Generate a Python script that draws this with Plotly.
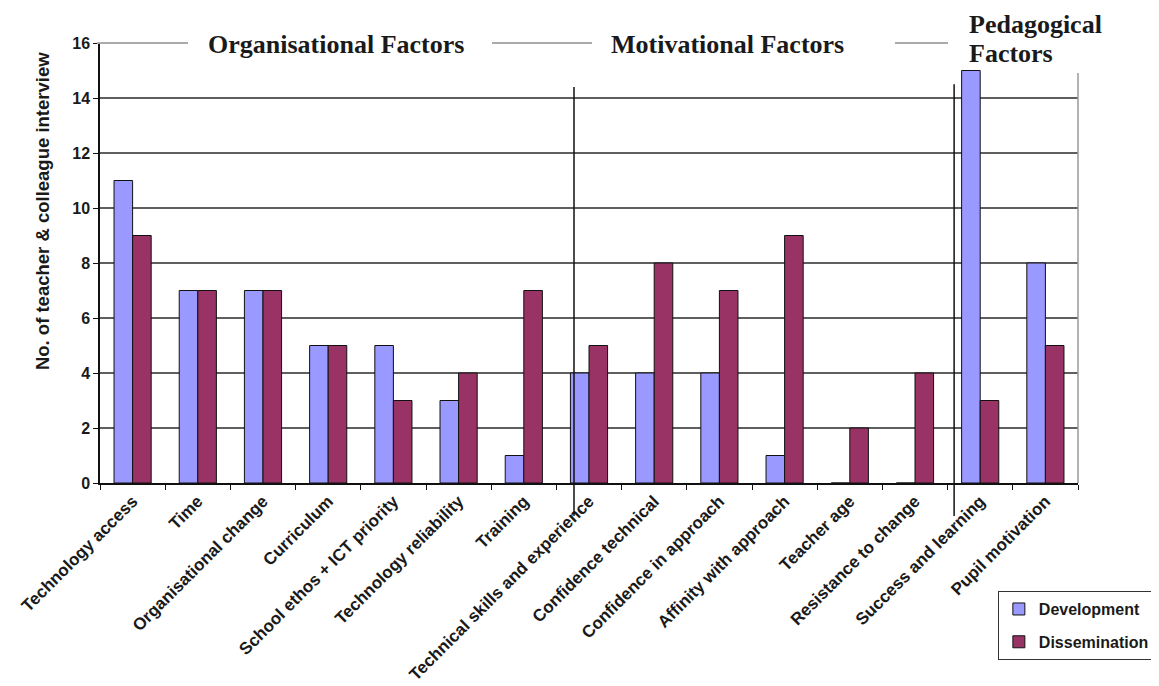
import plotly.graph_objects as go

categories = [
    "Technology access", "Time", "Organisational change", "Curriculum",
    "School ethos + ICT priority", "Technology reliability", "Training",
    "Technical skills and experience", "Confidence technical",
    "Confidence in approach", "Affinity with approach", "Teacher age",
    "Resistance to change", "Success and learning", "Pupil motivation",
]
development = [11, 7, 7, 5, 5, 3, 1, 4, 4, 4, 1, 0, 0, 15, 8]
dissemination = [9, 7, 7, 5, 3, 4, 7, 5, 8, 7, 9, 2, 4, 3, 5]
y_ticks = [0, 2, 4, 6, 8, 10, 12, 14, 16]

group_titles = ["Organisational Factors", "Motivational Factors"]
ped_title = ["Pedagogical", "Factors"]
y_title = "No. of teacher & colleague interview"

FONT = "Liberation Sans, Arial, sans-serif"
SERIF = "Liberation Serif, Times New Roman, serif"
TXT = "#1a1a1a"

fig = go.Figure()
fig.add_trace(go.Bar(
    x=categories, y=development, name="Development", legendgroup="a",
    marker=dict(color="#9999FF", line=dict(color="#111111", width=1)),
))
fig.add_trace(go.Bar(
    x=categories, y=dissemination, name="Dissemination", legendgroup="b",
    marker=dict(color="#993366", line=dict(color="#111111", width=1)),
))

shapes = []
# horizontal grid lines (except the top one)
for v in y_ticks[1:-1]:
    shapes.append(dict(type="line", xref="paper", yref="y", x0=0, x1=1, y0=v, y1=v,
                       line=dict(color="#2a2a2a", width=1.5), layer="below"))
# grey fragments of the top line between the group titles
for a, b in [(-0.003, 0.090), (0.4008, 0.5031), (0.8129, 0.8671)]:
    shapes.append(dict(type="line", xref="paper", yref="paper", x0=a, x1=b, y0=1, y1=1,
                       line=dict(color="#aaaaaa", width=2)))
# right border (grey)
shapes.append(dict(type="line", xref="paper", yref="paper", x0=1, x1=1, y0=0, y1=0.932,
                   line=dict(color="#999999", width=1.5)))
# group divider lines
for xc, ytop in [(6.77, 0.90), (12.6, 0.906)]:
    shapes.append(dict(type="line", xref="x", yref="paper", x0=xc, x1=xc, y0=-0.075, y1=ytop,
                       line=dict(color="#111111", width=1.5), layer="above"))

annotations = [
    dict(text=group_titles[0], xref="paper", yref="paper", x=0.2413, y=0.9955,
         xanchor="center", yanchor="middle", showarrow=False,
         font=dict(family=SERIF, size=26, color=TXT, weight="bold")),
    dict(text=group_titles[1], xref="paper", yref="paper", x=0.642, y=0.9955,
         xanchor="center", yanchor="middle", showarrow=False,
         font=dict(family=SERIF, size=26, color=TXT, weight="bold")),
    dict(text=ped_title[0], xref="paper", yref="paper", x=0.8865, y=1.041,
         xanchor="left", yanchor="middle", showarrow=False,
         font=dict(family=SERIF, size=26, color=TXT, weight="bold")),
    dict(text=ped_title[1], xref="paper", yref="paper", x=0.8865, y=0.977,
         xanchor="left", yanchor="middle", showarrow=False,
         font=dict(family=SERIF, size=26, color=TXT, weight="bold")),
    dict(text=y_title, xref="paper", yref="paper", x=-0.0593, y=0.618,
         xanchor="center", yanchor="middle", textangle=-90, showarrow=False,
         font=dict(family=FONT, size=18.5, color=TXT, weight="bold")),
]

fig.update_layout(
    width=1151, height=678,
    margin=dict(l=92, r=81, t=35, b=203, autoexpand=False),
    paper_bgcolor="white", plot_bgcolor="white",
    barmode="group", bargap=0.43, bargroupgap=0,
    shapes=shapes, annotations=annotations,
    showlegend=True,
    legend=dict(xref="container", yref="container", x=0.860, y=0.140,
                xanchor="left", yanchor="top",
                bordercolor="#333333", borderwidth=1, bgcolor="white",
                tracegroupgap=9,
                font=dict(family=FONT, size=16, color=TXT, weight="bold")),
    font=dict(family=FONT, color=TXT),
)
fig.update_xaxes(
    type="category", showline=True, linecolor="#111111", linewidth=1.5,
    ticks="outside", tickson="boundaries", ticklen=5, tickcolor="#111111",
    tickangle=-45, showgrid=False, automargin=False,
    tickfont=dict(family=FONT, size=17, color=TXT, weight="bold"),
)
fig.update_yaxes(
    range=[0, 16], tickvals=y_ticks, showgrid=False, zeroline=False,
    showline=True, linecolor="#111111", linewidth=1.5, automargin=False,
    ticks="outside", ticklen=5, tickcolor="#111111",
    tickfont=dict(family=FONT, size=16, color=TXT, weight="bold"),
)

fig.write_html("out.html")
